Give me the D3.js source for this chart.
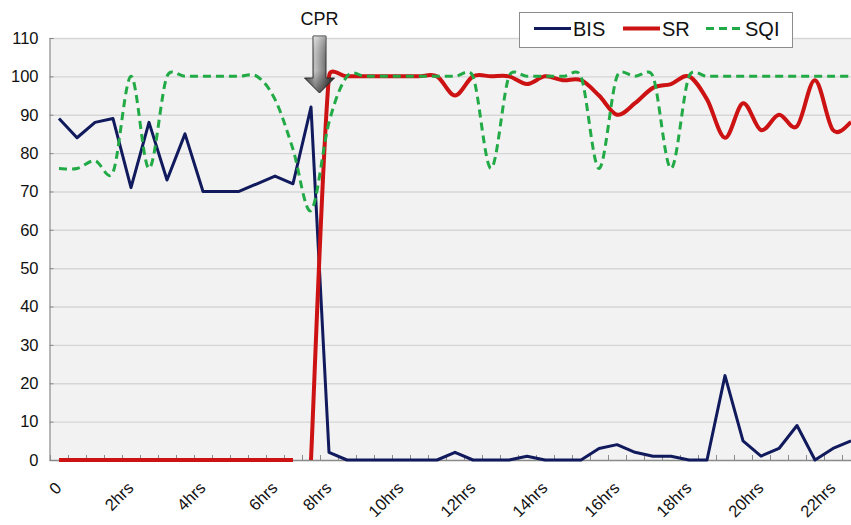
<!DOCTYPE html>
<html><head><meta charset="utf-8">
<script src="https://cdn.jsdelivr.net/npm/d3@7"></script>
<style>
html,body{margin:0;padding:0;background:#fff;}
svg{display:block;font-family:"Liberation Sans",Arial,Helvetica,sans-serif;}
</style></head><body>
<svg id="chart" width="851" height="525"></svg>
<script>
// ---- data (half-hour slots) ----
const categories = d3.range(45);
const xTickLabels = ["0","","","","2hrs","","","","4hrs","","","","6hrs","","","8hrs","","","","10hrs","","","","12hrs","","","","14hrs","","","","16hrs","","","","18hrs","","","","20hrs","","","","22hrs",""];
const yTicks = [0,10,20,30,40,50,60,70,80,90,100,110];
const bis = [89,84,88,89,71,88,73,85,70,70, 70,72,74,72,92,2,0,0,0,0, 0,0,2,0,0,0,1,0,0,0, 3,4,2,1,1,0,0,22,5,1, 3,9,0,3,5];
const sr  = [0,0,0,0,0,0,0,0,0,0, 0,0,0,0,0,100,100,100,100,100, 100,100,95,100,100,100,98,100,99,99, 95,90,93,97,98,100,94,84,93,86, 90,87,99,86,88];
const srSegments = [[0,13],[14,44]];
const sqi = [76,76,78,75,100,76,100,100,100,100, 100,100,94,81,65,88,100,100,100,100, 100,100,100,100,76,100,100,100,100,100, 76,100,100,100,76,100,100,100,100,100, 100,100,100,100,100];
const seriesNames = ["BIS","SR","SQI"];
const cprIndex = 15;
const cprLabel = "CPR";

// ---- layout ----
const svg = d3.select("#chart");
const pL = 50, pR = 860, pT = 38, pB = 460;
const x = d3.scaleBand().domain(categories).range([pL, pR]).paddingInner(0).paddingOuter(0);
const cx = i => x(i) + x.bandwidth()/2;
const y = d3.scaleLinear().domain([0,110]).range([pB, pT]);

// spreadsheet-style smoothed line: Catmull-Rom tangents, limited by segment length
function smoothPath(pts, k) {
  const p = d3.path();
  p.moveTo(pts[0][0], pts[0][1]);
  const cap = (v, m) => { const l = Math.hypot(v[0], v[1]); return l > m && l > 0 ? [v[0]*m/l, v[1]*m/l] : v; };
  for (let i = 0; i < pts.length - 1; i++) {
    const P0 = pts[i-1] || pts[i], P1 = pts[i], P2 = pts[i+1], P3 = pts[i+2] || pts[i+1];
    const seg = Math.hypot(P2[0]-P1[0], P2[1]-P1[1]);
    const t1 = cap([(P2[0]-P0[0])/6, (P2[1]-P0[1])/6], k*seg);
    const t2 = cap([(P3[0]-P1[0])/6, (P3[1]-P1[1])/6], k*seg);
    p.bezierCurveTo(P1[0]+t1[0], P1[1]+t1[1], P2[0]-t2[0], P2[1]-t2[1], P2[0], P2[1]);
  }
  return p.toString();
}

const defs = svg.append("defs");
const gH = defs.append("linearGradient").attr("id","arrH").attr("x1",0).attr("x2",1).attr("y1",0).attr("y2",0);
[[0,"#555"],[0.35,"#cfcfcf"],[0.6,"#959595"],[1,"#262626"]].forEach(s=>gH.append("stop").attr("offset",s[0]).attr("stop-color",s[1]));
const gV = defs.append("linearGradient").attr("id","arrV").attr("x1",0).attr("x2",0).attr("y1",0).attr("y2",1);
[[0,"#ffffff",0.3],[0.6,"#000000",0.05],[1,"#000000",0.5]].forEach(s=>gV.append("stop").attr("offset",s[0]).attr("stop-color",s[1]).attr("stop-opacity",s[2]));

// plot background
svg.append("rect").attr("x",pL).attr("y",pT).attr("width",pR-pL).attr("height",pB-pT).attr("fill","#f2f2f2");

// gridlines
svg.append("g").selectAll("line").data(yTicks.filter(d=>d>0)).join("line")
  .attr("x1",pL).attr("x2",pR).attr("y1",d=>y(d)+0.5).attr("y2",d=>y(d)+0.5)
  .attr("stroke","#d6d6d6").attr("stroke-width",1.4);

// y axis
const yAxis = svg.append("g").attr("transform",`translate(${pL-0.5},0)`)
  .call(d3.axisLeft(y).tickValues(yTicks).tickSize(-4).tickPadding(11).tickFormat(d3.format("d")));
yAxis.select(".domain").attr("stroke","#8a8a8a").attr("stroke-width",1.2);
yAxis.selectAll(".tick line").attr("stroke","#8a8a8a");
yAxis.selectAll("text").attr("font-size","16.5px").attr("fill","#111").attr("font-family","'Liberation Sans',Arial,sans-serif");

// x axis
const xa = svg.append("g");
xa.append("line").attr("x1",pL).attr("x2",pR).attr("y1",pB+0.5).attr("y2",pB+0.5).attr("stroke","#8a8a8a").attr("stroke-width",1.4);
xa.selectAll("line.tk").data(categories.concat([categories.length])).join("line").attr("class","tk")
  .attr("x1",i=> (i<categories.length? x(i) : pR)+0.5).attr("x2",i=>(i<categories.length? x(i) : pR)+0.5)
  .attr("y1",pB-5).attr("y2",pB).attr("stroke","#8a8a8a").attr("stroke-width",1);
xa.selectAll("text").data(categories.filter(i=>xTickLabels[i]!=="")).join("text")
  .attr("transform",i=>`translate(${cx(i)+3.5},${pB+29}) rotate(-45)`)
  .attr("text-anchor","end").attr("font-size","16.5px").attr("fill","#111").text(i=>xTickLabels[i]);

// series
const lineBis = d3.line().x((d,i)=>cx(i)).y(d=>y(d));
svg.append("path").attr("d",lineBis(bis)).attr("fill","none").attr("stroke","#101a5c").attr("stroke-width",3).attr("stroke-linejoin","round");

srSegments.forEach(([a,b])=>{
  const pts = d3.range(a,b+1).map(i=>[cx(i), y(sr[i])]);
  svg.append("path").attr("d",smoothPath(pts,0.6)).attr("fill","none").attr("stroke","#cc1212").attr("stroke-width",4).attr("stroke-linejoin","round");
});

const sqiPts = sqi.map((d,i)=>[cx(i), y(d)]);
svg.append("path").attr("d",smoothPath(sqiPts,0.6)).attr("fill","none").attr("stroke","#22aa46").attr("stroke-width",3).attr("stroke-dasharray","8,5");

// CPR annotation
const ax = x(cprIndex) - 0.5;
svg.append("text").attr("x",ax).attr("y",25).attr("text-anchor","middle").attr("font-size","18px").attr("fill","#111").text(cprLabel);
const arrowPts = [[ax-6.5,36],[ax+6.5,36],[ax+6.5,78],[ax+15,78],[ax,93],[ax-15,78],[ax-6.5,78]];
const arrowD = "M" + arrowPts.map(p=>p.join(",")).join("L") + "Z";
svg.append("path").attr("d",arrowD).attr("fill","url(#arrH)").attr("stroke","#333").attr("stroke-width",1);
svg.append("path").attr("d",arrowD).attr("fill","url(#arrV)");

// legend
const lg = svg.append("g");
lg.append("rect").attr("x",519.5).attr("y",12.5).attr("width",273).attr("height",35).attr("fill","#fff").attr("stroke","#8c8c8c").attr("stroke-width",1);
const legendItems = [
  {name:seriesNames[0], x1:534, color:"#101a5c", w:3, dash:null},
  {name:seriesNames[1], x1:623, color:"#cc1212", w:4, dash:null},
  {name:seriesNames[2], x1:706, color:"#22aa46", w:3, dash:"8,5"}
];
legendItems.forEach(it=>{
  lg.append("line").attr("x1",it.x1).attr("x2",it.x1+37).attr("y1",28.5).attr("y2",28.5)
    .attr("stroke",it.color).attr("stroke-width",it.w).attr("stroke-dasharray",it.dash);
  lg.append("text").attr("x",it.x1+39).attr("y",36).attr("font-size","20px").attr("fill","#111").text(it.name);
});
</script>
</body></html>
